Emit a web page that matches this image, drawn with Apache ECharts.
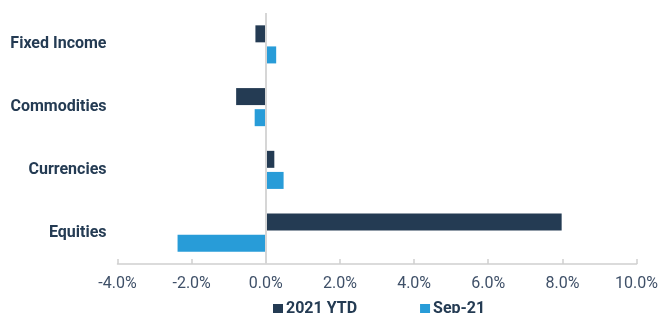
<!DOCTYPE html>
<html lang="en">
  <head>
    <meta charset="UTF-8" />
    <title>Asset class returns</title>
    <script src="https://cdn.jsdelivr.net/npm/echarts@6/dist/echarts.min.js"></script>
    <style>
      html, body { margin: 0; padding: 0; background: #fff; }
      #chart { width: 661px; height: 313px; }
    </style>
  </head>
  <body>
    <div id="chart"></div>
    <script>
      // categories top to bottom
      var categories = ["Fixed Income", "Commodities", "Currencies", "Equities"];
      var ytd = [-0.28, -0.8, 0.23, 7.98];
      var sep21 = [0.28, -0.3, 0.48, -2.38];
      var xTicks = [-4, -2, 0, 2, 4, 6, 8, 10];

      var navy = "#243b53";
      var blue = "#289cd8";

      var myChart = echarts.init(document.getElementById("chart"));
      var option = {
        animation: false,
        textStyle: { fontFamily: "Roboto" },
        grid: { left: 117.5, right: 23, top: 13, bottom: 49, containLabel: false },
        legend: {
          data: ["2021 YTD", "Sep-21"],
          left: 268,
          top: 296,
          itemWidth: 10,
          itemHeight: 10,
          itemGap: 63,
          icon: "rect",
          textStyle: { color: navy, fontWeight: "bold", fontSize: 16, padding: [0, 0, 0, -2] }
        },
        xAxis: {
          type: "value",
          min: xTicks[0],
          max: xTicks[xTicks.length - 1],
          interval: 2,
          axisLine: { show: true, lineStyle: { color: "#cfcfcf", width: 1.5 } },
          axisTick: { show: true, inside: true, length: 5, lineStyle: { color: "#cfcfcf", width: 1.5 } },
          splitLine: { show: false },
          axisLabel: {
            color: "#3f5068",
            fontSize: 16,
            margin: 12,
            formatter: function (v) { return v.toFixed(1) + "%"; }
          }
        },
        yAxis: {
          type: "category",
          inverse: true,
          data: categories,
          axisLine: { show: false },
          axisTick: { show: false },
          axisLabel: { color: navy, fontWeight: "bold", fontSize: 16, margin: 11, padding: [4, 0, 0, 0] }
        },
        series: [
          {
            name: "2021 YTD",
            type: "bar",
            data: ytd,
            barWidth: 17,
            barGap: "24%",
            itemStyle: { color: navy },
            markLine: {
              silent: true,
              symbol: "none",
              label: { show: false },
              lineStyle: { color: "#d6d6d6", width: 2, type: "solid" },
              data: [{ xAxis: 0 }]
            }
          },
          {
            name: "Sep-21",
            type: "bar",
            data: sep21,
            barWidth: 17,
            barGap: "24%",
            itemStyle: { color: blue }
          }
        ]
      };
      myChart.setOption(option);
    </script>
  </body>
</html>
